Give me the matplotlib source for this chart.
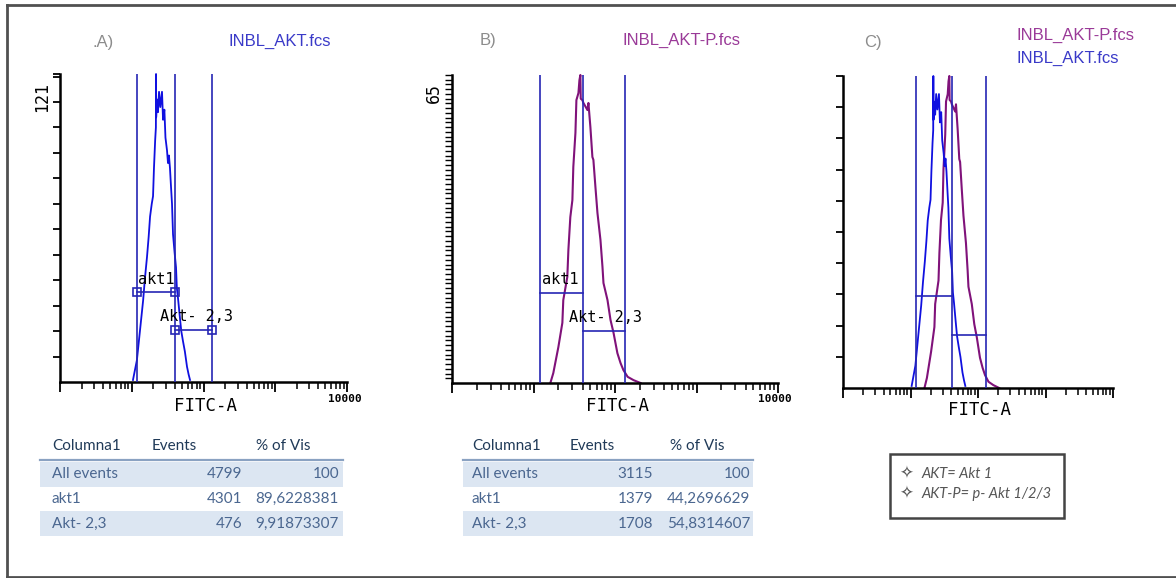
import matplotlib
matplotlib.use("Agg")
import matplotlib.pyplot as plt
from matplotlib.patches import Rectangle
from matplotlib.lines import Line2D
from matplotlib.ticker import LogLocator, NullFormatter

# ---- data ----
# A) INBL_AKT.fcs histogram (FITC-A, counts)
akt_x = [10.4, 11.8, 13.0, 14.4, 15.3, 16.3, 17.2, 18.0, 19.0, 19.8,
         20.4, 21.2, 21.7, 21.8, 21.9, 22.5, 23.2, 24.0, 25.0, 26.4,
         27.3, 28.5, 29.5, 31.0, 32.0, 33.0, 34.1, 35.2, 36.4, 37.6,
         39.5, 41.4, 42.5, 44.1, 47.0, 49.0, 51.8, 55.0, 58.9, 62.0, 64.9]
akt_counts = [0.8, 8.6, 20, 32, 41, 49, 57, 65, 70, 73,
              84, 95, 100, 121, 104, 111, 106, 114, 108, 114,
              103, 107, 96, 91, 86, 89, 84, 77, 70, 58,
              51, 45, 37, 33, 25, 20, 16, 12, 6, 3, 0.8]

# B) INBL_AKT-P.fcs histogram
aktp_x = [16.1, 17.5, 20.2, 22.6, 23.2, 26.0, 26.8, 28.3, 30.0, 30.8,
          32.7, 33.6, 35.6, 36.6, 37.6, 38.0, 39.8, 41.0, 45.9, 47.2,
          49.9, 52.8, 54.3, 57.5, 60.9, 66.3, 70.2, 72.2, 80.9, 88.1,
          95.9, 107, 117, 127, 143, 169, 206]
aktp_counts = [0, 2.1, 7.6, 12.7, 17.5, 22.4, 28.1, 35.0, 38.6, 45.6,
               52.8, 59.7, 61.2, 63.9, 65, 60, 59.7, 59.1, 57.6, 59.1,
               54.0, 47.7, 47.1, 41.4, 35.9, 30.2, 24.5, 21.1, 17.5, 13.3,
               10.6, 6.3, 4.2, 2.7, 1.3, 0.6, 0]

y_max_a = 121
y_max_b = 65

# gate boundaries (FITC-A) and gate heights per panel
gate_edges = [11.9, 40.5, 131]
gate_y_a = [35.4, 20.4]
gate_y_b = [19.0, 11.0]
gate_y_c = [29.5, 17.0]
gate_names = ["akt1", "Akt- 2,3"]

# statistics tables
row_names = ["All events", "akt1", "Akt- 2,3"]
events_a = [4799, 4301, 476]
pct_a = [100, 89.6228381, 9.91873307]
events_b = [3115, 1379, 1708]
pct_b = [100, 44.2696629, 54.8314607]
table_header = ["Columna1", "Events", "% of Vis"]

legend_lines = ["AKT= Akt 1", "AKT-P= p- Akt 1/2/3"]

# ---- styles ----
BLUE = "#1010e0"
PURPLE = "#80127a"
GATE = "#2626b4"
W, H = 1176, 578

fig = plt.figure(figsize=(W / 100, H / 100), dpi=100)


def fx(px):
    return px / W


def fy(py):
    return 1 - py / H


def hist_axes(left, top, right, bottom, ymax, yticks):
    ax = fig.add_axes([fx(left), fy(bottom), fx(right) - fx(left), fy(top) - fy(bottom)])
    ax.set_facecolor("none")
    ax.set_xscale("log")
    ax.set_xlim(1, 10000)
    ax.set_ylim(0, ymax)
    for s in ("top", "right"):
        ax.spines[s].set_visible(False)
    for s in ("left", "bottom"):
        ax.spines[s].set_linewidth(1.8)
    ax.xaxis.set_major_locator(LogLocator(base=10, numticks=10))
    ax.xaxis.set_minor_locator(LogLocator(base=10, subs=range(2, 10), numticks=40))
    ax.xaxis.set_major_formatter(NullFormatter())
    ax.xaxis.set_minor_formatter(NullFormatter())
    ax.set_yticks(yticks)
    ax.tick_params(axis="x", which="major", direction="out", length=7, width=1.3)
    ax.tick_params(axis="x", which="minor", direction="out", length=5, width=1.1)
    ax.tick_params(axis="y", direction="out", length=5, width=1.3, labelleft=False)
    return ax


def draw_gates(ax, heights, markers=False):
    for e in gate_edges:
        ax.axvline(e, color=GATE, lw=1.2, zorder=3)
    mk = dict(marker="s", ms=6, mfc="none", mec=GATE, mew=1.2) if markers else {}
    ax.plot(gate_edges[0:2], [heights[0]] * 2, color=GATE, lw=1.2, zorder=4, **mk)
    ax.plot(gate_edges[1:3], [heights[1]] * 2, color=GATE, lw=1.2, zorder=4, **mk)


# A)
ax_a = hist_axes(60, 74, 347, 382, y_max_a, list(range(10, 121, 10)) + [121])
ax_a.plot(akt_x, akt_counts, color=BLUE, lw=1.3, clip_on=False, zorder=2)
draw_gates(ax_a, gate_y_a, markers=True)
ax_a.text(12.1, gate_y_a[0] + 2, gate_names[0], family="DejaVu Sans Mono", fontsize=11, va="bottom")
ax_a.text(24.8, gate_y_a[1] + 2.5, gate_names[1], family="DejaVu Sans Mono", fontsize=11, va="bottom")

# B)
ax_b = hist_axes(452, 75, 778, 383, y_max_b, list(range(1, 66)))
ax_b.tick_params(axis="y", length=5, width=1.0)
ax_b.plot(aktp_x, aktp_counts, color=PURPLE, lw=1.5, clip_on=False, zorder=2)
draw_gates(ax_b, gate_y_b)
ax_b.text(12.8, gate_y_b[0] + 1.2, gate_names[0], family="DejaVu Sans Mono", fontsize=11, va="bottom")
ax_b.text(27.5, gate_y_b[1] + 1.3, gate_names[1], family="DejaVu Sans Mono", fontsize=11, va="bottom")

# C) overlay, each normalised to its own maximum
ax_c = hist_axes(843, 76, 1113, 388, 100, list(range(10, 101, 10)))
ax_c.plot(aktp_x, [v / max(aktp_counts) * 100 for v in aktp_counts],
          color=PURPLE, lw=1.5, clip_on=False, zorder=2)
ax_c.plot(akt_x, [v / max(akt_counts) * 100 for v in akt_counts],
          color=BLUE, lw=1.3, clip_on=False, zorder=2)
draw_gates(ax_c, gate_y_c)

# axis texts
mono = dict(family="DejaVu Sans Mono")
for cx, cy in [(205, 406), (617, 406), (980, 410)]:
    fig.text(fx(cx), fy(cy), "FITC-A", ha="center", va="center", fontsize=12.5, **mono)
for cx in (345, 775):
    fig.text(fx(cx), fy(399), "10000", ha="center", va="center", fontsize=8,
             weight="bold", **mono)
fig.text(fx(42), fy(97), "121", rotation=90, ha="center", va="center", fontsize=12, **mono)
fig.text(fx(434), fy(93), "65", rotation=90, ha="center", va="center", fontsize=12, **mono)

# panel letters and file names
lib = dict(family="Liberation Sans")
for (cx, cy, s) in [(103, 42, ".A)"), (488, 40, "B)"), (873, 43, "C)")]:
    fig.text(fx(cx), fy(cy), s, ha="center", va="center", fontsize=12, color="#8c8c8c", **lib)
fig.text(fx(228), fy(41), "INBL_AKT.fcs", va="center", fontsize=12, color="#3a3ac8", **lib)
fig.text(fx(623), fy(40), "INBL_AKT-P.fcs", va="center", fontsize=12, color="#9a3a98", **lib)
fig.text(fx(1017), fy(35), "INBL_AKT-P.fcs", va="center", fontsize=12, color="#9a3a98", **lib)
fig.text(fx(1017), fy(58), "INBL_AKT.fcs", va="center", fontsize=12, color="#3a3ac8", **lib)


# tables
def draw_table(x0, x1, col_x, right_x, events, pct):
    cal = dict(family="Lato", fontsize=11)
    for txt, cx in zip(table_header, col_x):
        fig.text(fx(cx), fy(446), txt, va="center", color="#203a58", **cal)
    fig.add_artist(Line2D([fx(x0), fx(x1)], [fy(460), fy(460)], color="#8aa2c2", lw=1.6))
    for i, name in enumerate(row_names):
        top = 462 + i * 24.5
        if i % 2 == 0:
            fig.add_artist(Rectangle((fx(x0), fy(top + 24.5)), fx(x1) - fx(x0), 24.5 / H,
                                     facecolor="#dce6f2", edgecolor="none"))
        cy = top + 12.5
        fig.text(fx(col_x[0]), fy(cy), name, va="center", color="#4b6790", **cal)
        fig.text(fx(right_x[0]), fy(cy), str(events[i]), va="center", ha="right",
                 color="#4b6790", **cal)
        fig.text(fx(right_x[1]), fy(cy), str(pct[i]).replace(".", ","), va="center",
                 ha="right", color="#4b6790", **cal)


draw_table(40, 343, [52, 152, 256], [242, 339], events_a, pct_a)
draw_table(463, 753, [472, 570, 670], [653, 750], events_b, pct_b)

# legend box in C
fig.add_artist(Rectangle((fx(890), fy(518)), fx(1064) - fx(890), (518 - 454) / H,
                         facecolor="white", edgecolor="#444444", lw=1.8))
for i, s in enumerate(legend_lines):
    cy = 474 + i * 20
    fig.text(fx(906), fy(cy), "\u2727", ha="center", va="center", fontsize=12,
             color="#555555", family="DejaVu Sans")
    fig.text(fx(921), fy(cy), s, va="center", fontsize=10.5, style="italic",
             color="#555555", family="Lato")

# outer frame (right side is off the picture)
frame = dict(color="#505050", lw=2)
fig.add_artist(Line2D([fx(7), 1], [fy(5), fy(5)], **frame))
fig.add_artist(Line2D([fx(7), fx(7)], [fy(5), fy(577)], **frame))
fig.add_artist(Line2D([fx(7), 1], [fy(577), fy(577)], **frame))

fig.savefig("out.png", dpi=100)
